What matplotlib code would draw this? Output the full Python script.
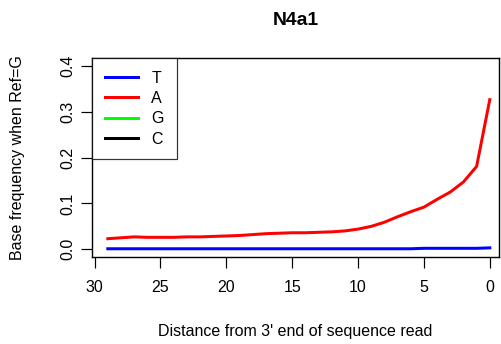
import matplotlib
matplotlib.use("Agg")
import matplotlib.pyplot as plt
import numpy as np

plt.rcParams['font.family'] = ['Liberation Sans', 'DejaVu Sans']

# distance from 3' end, base frequencies when the reference base is G
pos = np.arange(30)
freq_T = [0.003, 0.002, 0.002, 0.002, 0.002, 0.002, 0.001, 0.001, 0.001, 0.001,
          0.001, 0.001, 0.001, 0.001, 0.001, 0.001, 0.001, 0.001, 0.001, 0.001,
          0.001, 0.001, 0.001, 0.001, 0.001, 0.001, 0.001, 0.001, 0.001, 0.001]
freq_A = [0.327, 0.181, 0.147, 0.125, 0.109, 0.092, 0.082, 0.071, 0.059, 0.050,
          0.044, 0.040, 0.038, 0.037, 0.036, 0.036, 0.035, 0.034, 0.032, 0.030,
          0.029, 0.028, 0.027, 0.027, 0.026, 0.026, 0.026, 0.027, 0.025, 0.023]
# G is the reference base and C never shows up, so neither has a curve
freq_G = [np.nan] * 30
freq_C = [np.nan] * 30

fig = plt.figure(figsize=(501 / 72, 344 / 72), dpi=72)
ax = fig.add_axes([92 / 501, 1 - 257 / 344, 407 / 501, 199 / 344])

ax.plot(pos, freq_T, color='blue', lw=3, label='T')
ax.plot(pos, freq_A, color='red', lw=3, label='A')
ax.plot(pos, freq_G, color='#00ff00', lw=3, label='G')
ax.plot(pos, freq_C, color='black', lw=3, label='C')

ax.set_xlim(30.2, -0.7)
ax.set_ylim(-0.017, 0.418)
ax.set_xticks([30, 25, 20, 15, 10, 5, 0])
ax.set_yticks([0.0, 0.1, 0.2, 0.3, 0.4])
ax.set_yticklabels(['0.0', '0.1', '0.2', '0.3', '0.4'], rotation=90, va='center')
ax.tick_params(direction='out', length=11, width=1.2, labelsize=16)
ax.tick_params(axis='x', pad=12)
ax.tick_params(axis='y', pad=6)
for s in ax.spines.values():
    s.set_linewidth(1.4)

ax.set_title('N4a1', fontsize=19.2, fontweight='bold', pad=33)
ax.set_xlabel("Distance from 3' end of sequence read", fontsize=16, labelpad=29)
ax.set_ylabel('Base frequency when Ref=G', fontsize=16, labelpad=35)

leg = ax.legend(loc='upper left', bbox_to_anchor=(0, 1), fontsize=16,
                frameon=True, fancybox=False, edgecolor='black',
                borderaxespad=0, handlelength=2.06, handletextpad=0.85,
                labelspacing=0.33, borderpad=0.8)
leg.get_frame().set_linewidth(1.2)
for line in leg.get_lines():
    line.set_linewidth(3)

fig.savefig('out.png', dpi=72)
